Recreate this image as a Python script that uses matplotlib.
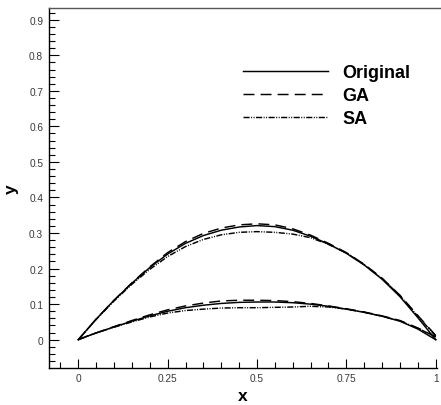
import matplotlib
matplotlib.use("Agg")
import matplotlib.pyplot as plt
from matplotlib.lines import Line2D
from matplotlib.ticker import MultipleLocator, FixedLocator

plt.rcParams["font.family"] = ["Liberation Sans", "DejaVu Sans"]

# chordwise stations
x = [0, 0.025, 0.05, 0.1, 0.15, 0.2, 0.25, 0.3, 0.35, 0.4, 0.45,
     0.5, 0.55, 0.6, 0.65, 0.7, 0.75, 0.8, 0.85, 0.9, 0.95, 1.0]

orig_upper = [0, 0.029, 0.058, 0.111, 0.159, 0.203, 0.241, 0.271, 0.293, 0.308, 0.317,
              0.321, 0.318, 0.308, 0.291, 0.269, 0.243, 0.210, 0.170, 0.121, 0.062, 0.0]
ga_upper = [0, 0.029, 0.058, 0.111, 0.160, 0.205, 0.245, 0.276, 0.299, 0.314, 0.323,
            0.326, 0.323, 0.312, 0.294, 0.271, 0.245, 0.212, 0.173, 0.125, 0.068, 0.012]
sa_upper = [0, 0.029, 0.057, 0.109, 0.156, 0.198, 0.234, 0.262, 0.282, 0.295, 0.302,
            0.304, 0.302, 0.297, 0.287, 0.268, 0.244, 0.211, 0.172, 0.124, 0.066, 0.010]

orig_lower = [0, 0.010, 0.019, 0.036, 0.052, 0.067, 0.080, 0.090, 0.097, 0.102, 0.105,
              0.106, 0.106, 0.104, 0.100, 0.094, 0.086, 0.077, 0.066, 0.052, 0.030, 0.0]
ga_lower = [0, 0.010, 0.019, 0.037, 0.054, 0.070, 0.084, 0.095, 0.103, 0.109, 0.111,
            0.111, 0.110, 0.107, 0.102, 0.095, 0.087, 0.078, 0.067, 0.054, 0.033, 0.008]
sa_lower = [0, 0.010, 0.019, 0.035, 0.050, 0.064, 0.075, 0.082, 0.086, 0.089, 0.090,
            0.090, 0.091, 0.092, 0.094, 0.092, 0.086, 0.077, 0.066, 0.053, 0.032, 0.008]

labels = ["Original", "GA", "SA"]

fig = plt.figure(figsize=(4.41, 4.06), dpi=100)
ax = fig.add_axes([49 / 441, 1 - 369 / 406, (437 - 49) / 441, (369 - 9) / 406])

lw = 1.05
ga_dash = (7.5, 4.2)
sa_dash = (4.2, 1.0, 0.7, 1.0, 0.7, 1.0)

ax.plot(x, orig_upper, color="black", lw=lw, label=labels[0])
ax.plot(x, ga_upper, color="black", lw=lw, dashes=ga_dash, label=labels[1])
ax.plot(x, sa_upper, color="black", lw=lw, dashes=sa_dash, label=labels[2])
ax.plot(x, orig_lower, color="black", lw=lw)
ax.plot(x, ga_lower, color="black", lw=lw, dashes=ga_dash)
ax.plot(x, sa_lower, color="black", lw=lw, dashes=sa_dash)

ax.xaxis.set_major_locator(FixedLocator([0, 0.25, 0.5, 0.75, 1.0]))
ax.xaxis.set_minor_locator(MultipleLocator(0.05))
ax.yaxis.set_major_locator(MultipleLocator(0.1))
ax.yaxis.set_minor_locator(MultipleLocator(0.02))
ax.set_xticklabels(["0", "0.25", "0.5", "0.75", "1"])
ax.set_xlim(-0.082, 1.0036)
ax.set_ylim(-0.0796, 0.933)
ax.set_yticklabels(["0" if abs(v) < 1e-9 else f"{v:g}" for v in ax.get_yticks()])
ax.set_ylim(-0.0796, 0.933)

ax.tick_params(which="both", direction="in", top=False, right=False,
               width=0.8, colors="black", labelcolor="#3a3a3a", labelsize=7.3)
ax.tick_params(axis="x", which="major", length=6.7, pad=3.5)
ax.tick_params(axis="x", which="minor", length=4.3)
ax.tick_params(axis="y", which="major", length=7.2, pad=4.2)
ax.tick_params(axis="y", which="minor", length=4.0)

for side in ["right", "top"]:
    ax.spines[side].set_visible(False)
for side in ["left", "bottom"]:
    ax.spines[side].set_linewidth(1.0)

# frame line across the top of the plot area
fig.add_artist(Line2D([49 / 441, 1.0], [1 - 9 / 406, 1 - 9 / 406],
                      transform=fig.transFigure, color="#555555", lw=1.0))

ax.set_xlabel("x", fontsize=12.5, fontweight="bold", labelpad=4)
ax.set_ylabel("y", fontsize=12.5, fontweight="bold", labelpad=7)

leg = ax.legend(loc="upper left", bbox_to_anchor=(243 / 441, 1 - 65 / 406),
                bbox_transform=fig.transFigure, frameon=False, borderpad=0,
                borderaxespad=0, handlelength=4.7, handletextpad=0.8,
                labelspacing=0.33, prop={"size": 13, "weight": "bold"})

fig.savefig("out.png", dpi=100)
